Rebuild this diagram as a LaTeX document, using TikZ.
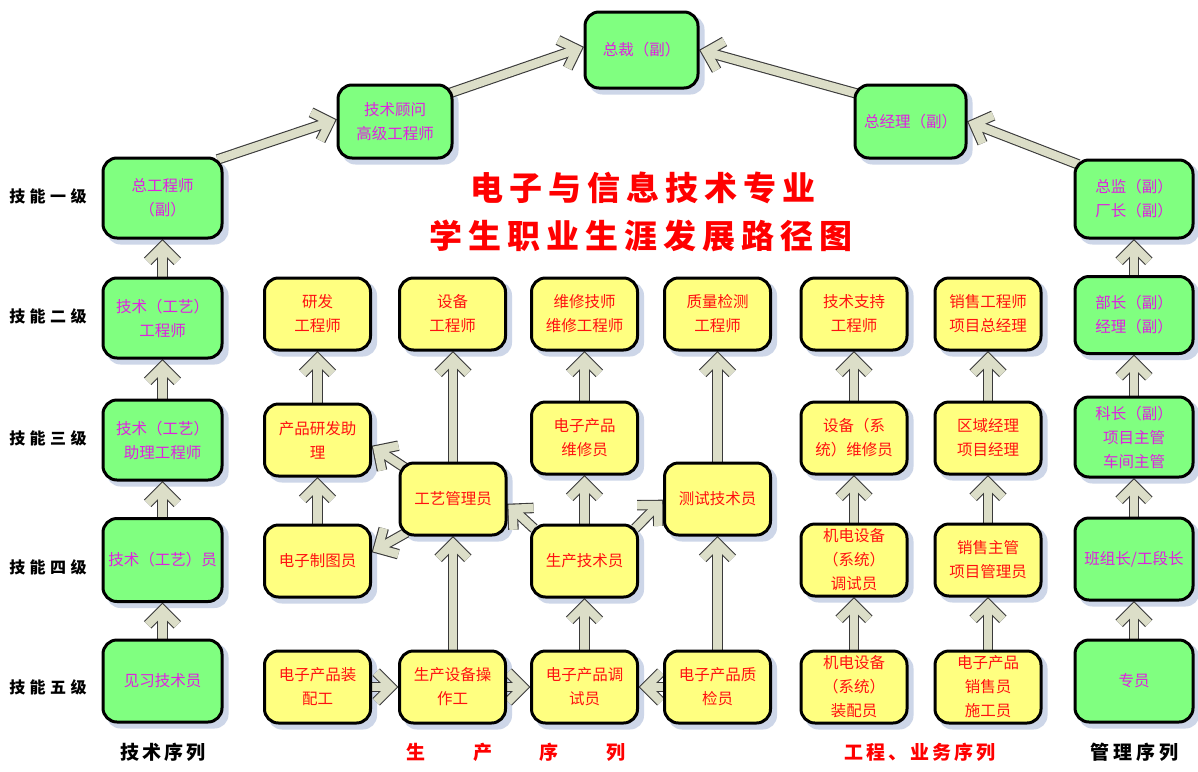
\documentclass[tikz,border=0pt]{standalone}
\usepackage{fontspec}
\setmainfont{Noto Sans CJK SC}
\usetikzlibrary{calc,backgrounds}
\definecolor{gfill}{HTML}{80FF80}
\definecolor{yfill}{HTML}{FFFF80}
\definecolor{gtext}{HTML}{E020E0}
\definecolor{ytext}{HTML}{FF1010}
\definecolor{afill}{HTML}{DCDEC8}
\definecolor{aline}{HTML}{3A3A3A}
\definecolor{shadowc}{HTML}{CDD6E8}
\definecolor{titred}{HTML}{FF0000}
\pgfdeclarelayer{bg0}
\pgfsetlayers{bg0,background,main}
\makeatletter
\newcommand\spaceout[2]{\def\so@gap{\hspace{#1}}\so@loop#2\@nil}
\def\so@loop#1#2\@nil{#1\ifx\relax#2\relax\else\so@gap\so@loop#2\@nil\fi}
\makeatother
\newcommand\farrow[2]{%
  \coordinate (fas) at #1;
  \coordinate (fae) at #2;
  \coordinate (fav) at ($(fae)!7pt!(fas)$);
  \coordinate (fab) at ($(fav)!21pt!(fas)$);
  \coordinate (fal) at ($(fav)!1!45:(fab)$);
  \coordinate (far) at ($(fav)!1!-45:(fab)$);
  \draw[arrout] (fas) -- (fav);
  \draw[arrout] (fal) -- (fav) -- (far);
  \draw[arrin] (fas) -- (fav);
  \draw[arrin] (fal) -- (fav) -- (far);
}
\begin{document}
\begin{tikzpicture}[x=1pt,y=-1pt,
  box/.style={draw=black, line width=3pt, rounded corners=14pt, align=center, inner sep=0pt,
    font=\fontsize{15.5}{24}\selectfont},
  gbox/.style={box, fill=gfill, text=gtext, minimum width=119pt, minimum height=80pt},
  ybox/.style={box, fill=yfill, text=ytext, minimum width=106pt, minimum height=72pt},
  arrout/.style={draw=aline, line width=10.5pt, line cap=butt, line join=miter},
  arrin/.style={draw=afill, line width=8.3pt, line cap=butt, line join=miter},
  lvl/.style={font=\fontsize{16}{18}\selectfont\bfseries, text=black, inner sep=0pt},
  seq/.style={font=\fontsize{19}{22}\selectfont\bfseries, inner sep=0pt},
  tit/.style={font=\fontsize{33}{36}\selectfont\bfseries, text=titred, inner sep=0pt}]
\begin{pgfonlayer}{bg0}
\fill[white] (0,0) rectangle (1198,771);
\end{pgfonlayer}
\useasboundingbox (0,0) rectangle (1198,771);

% technical column
\node[gbox] (zgcs) at (162.5,198) {总工程师\\（副）};
\node[gbox] (jsgcs) at (162.5,318) {技术（工艺）\\工程师};
\node[gbox] (jszl) at (162.5,440) {技术（工艺）\\助理工程师};
\node[gbox, minimum height=83pt] (jsy) at (162.5,560) {技术（工艺）员};
\node[gbox, minimum height=82pt] (jxjs) at (162.5,681) {见习技术员};
% top
\node[gbox, minimum width=114pt, minimum height=73pt] (jsgw) at (395,121.5) {技术顾问\\高级工程师};
\node[gbox, minimum width=113pt, minimum height=76pt] (zc) at (641.5,50) {总裁（副）};
\node[gbox, minimum width=111pt, minimum height=73pt] (zjl) at (910.5,121.5) {总经理（副）};
% management column
\node[gbox, minimum width=118pt, minimum height=78pt] (zj) at (1134,199) {总监（副）\\厂长（副）};
\node[gbox, minimum width=118pt, minimum height=77pt] (bz) at (1134,315) {部长（副）\\经理（副）};
\node[gbox, minimum width=118pt, minimum height=80pt] (kz) at (1134,437) {科长（副）\\项目主管\\车间主管};
\node[gbox, minimum width=118pt, minimum height=82pt] (bzz) at (1134,559) {班组长/工段长};
\node[gbox, minimum width=118pt, minimum height=82pt] (zy) at (1134,681) {专员};

% production columns
\node[ybox] (yfgcs) at (317.5,314) {研发\\工程师};
\node[ybox] (cpyf) at (317.5,440) {产品研发助\\理};
\node[ybox] (dzzt) at (317.5,561) {电子制图员};
\node[ybox] (zpg) at (317.5,687) {电子产品装\\配工};
\node[ybox] (sbgcs) at (452.5,314) {设备\\工程师};
\node[ybox] (gygl) at (453,499) {工艺管理员};
\node[ybox] (czg) at (452.5,687) {生产设备操\\作工};
\node[ybox] (wxjs) at (584.5,314) {维修技师\\维修工程师};
\node[ybox] (wxy) at (584.5,438) {电子产品\\维修员};
\node[ybox] (scjs) at (584.5,561) {生产技术员};
\node[ybox] (tsy) at (584.5,687) {电子产品调\\试员};
\node[ybox] (zljc) at (717.5,314) {质量检测\\工程师};
\node[ybox] (csjs) at (717.5,499) {测试技术员};
\node[ybox] (zjy) at (717.5,687) {电子产品质\\检员};
\node[ybox] (jszc) at (854,314) {技术支持\\工程师};
\node[ybox] (sbwx) at (854,438) {设备（系\\统）维修员};
\node[ybox] (jdts) at (854,560) {机电设备\\（系统）\\调试员};
\node[ybox] (jdzp) at (854,687) {机电设备\\（系统）\\装配员};
\node[ybox] (xsgcs) at (988,314) {销售工程师\\项目总经理};
\node[ybox] (qyjl) at (988,438) {区域经理\\项目经理};
\node[ybox] (xszg) at (988,560) {销售主管\\项目管理员};
\node[ybox] (xsy) at (988,687) {电子产品\\销售员\\施工员};

% shadows
\begin{pgfonlayer}{bg0}
\foreach \n in {zgcs,jsgcs,jszl,jsy,jxjs,jsgw,zc,zjl,zj,bz,kz,bzz,zy,yfgcs,cpyf,dzzt,zpg,sbgcs,gygl,czg,wxjs,wxy,scjs,tsy,zljc,csjs,zjy,jszc,sbwx,jdts,jdzp,xsgcs,qyjl,xszg,xsy}
  \fill[shadowc, rounded corners=14pt] ($(\n.south west)+(5,5)$) rectangle ($(\n.north east)+(5,5)$);
\end{pgfonlayer}

% arrows
\begin{pgfonlayer}{background}
\farrow{(jxjs.north)}{(jsy.south)}
\farrow{(jsy.north)}{(jszl.south)}
\farrow{(jszl.north)}{(jsgcs.south)}
\farrow{(jsgcs.north)}{(zgcs.south)}
\farrow{($(zgcs.north east)+(-6,3)$)}{($(jsgw.west)+(0,-2)$)}
\farrow{($(jsgw.north east)+(-5,10)$)}{($(zc.west)+(0,-3)$)}
\farrow{($(zjl.north west)+(3,10)$)}{(zc.east)}
\farrow{($(zj.north west)+(5,6)$)}{(zjl.east)}
\farrow{(zy.north)}{(bzz.south)}
\farrow{(bzz.north)}{(kz.south)}
\farrow{(kz.north)}{(bz.south)}
\farrow{(bz.north)}{(zj.south)}
\farrow{(dzzt.north)}{(cpyf.south)}
\farrow{(cpyf.north)}{(yfgcs.south)}
\farrow{($(gygl.north west)+(6,6)$)}{($(cpyf.east)+(0,6)$)}
\farrow{($(gygl.south west)+(8,-4)$)}{($(dzzt.east)+(0,-9)$)}
\farrow{($(czg.north)+(0.5,0)$)}{(gygl.south)}
\farrow{(gygl.north)}{($(sbgcs.south)+(0.5,0)$)}
\farrow{(zpg.east)}{(czg.west)}
\farrow{(czg.east)}{(tsy.west)}
\farrow{(zjy.west)}{(tsy.east)}
\farrow{(tsy.north)}{(scjs.south)}
\farrow{(scjs.north)}{(wxy.south)}
\farrow{(wxy.north)}{(wxjs.south)}
\farrow{($(scjs.north west)+(4,5)$)}{($(gygl.east)+(0,5)$)}
\farrow{($(scjs.north east)+(-4,5)$)}{($(csjs.west)+(0,1)$)}
\farrow{(zjy.north)}{(csjs.south)}
\farrow{(csjs.north)}{(zljc.south)}
\farrow{(jdzp.north)}{(jdts.south)}
\farrow{(jdts.north)}{(sbwx.south)}
\farrow{(sbwx.north)}{(jszc.south)}
\farrow{(xsy.north)}{(xszg.south)}
\farrow{(xszg.north)}{(qyjl.south)}
\farrow{(qyjl.north)}{(xsgcs.south)}
\end{pgfonlayer}

% level labels
\node[lvl] (l1) at (48,196) {\spaceout{4.5pt}{技能一级}};
\node[lvl] (l2) at (48,316) {\spaceout{4.5pt}{技能二级}};
\node[lvl] (l3) at (48,438) {\spaceout{4.5pt}{技能三级}};
\node[lvl] (l4) at (48,567) {\spaceout{4.5pt}{技能四级}};
\node[lvl] (l5) at (48,687) {\spaceout{4.5pt}{技能五级}};

% title
\node[tit] (t1) at (643,188) {\spaceout{6pt}{电子与信息技术专业}};
\node[tit] (t2) at (641,236) {\spaceout{6pt}{学生职业生涯发展路径图}};

% sequence labels
\node[seq, text=black] (s1) at (163,752) {\spaceout{3pt}{技术序列}};
\node[seq, text=titred] (s2) at (516,752) {\spaceout{48pt}{生产序列}};
\node[seq, text=titred] (s3) at (920,752) {\spaceout{3pt}{工程、业务序列}};
\node[seq, text=black] (s4) at (1134,752) {\spaceout{4pt}{管理序列}};
\end{tikzpicture}
\end{document}
